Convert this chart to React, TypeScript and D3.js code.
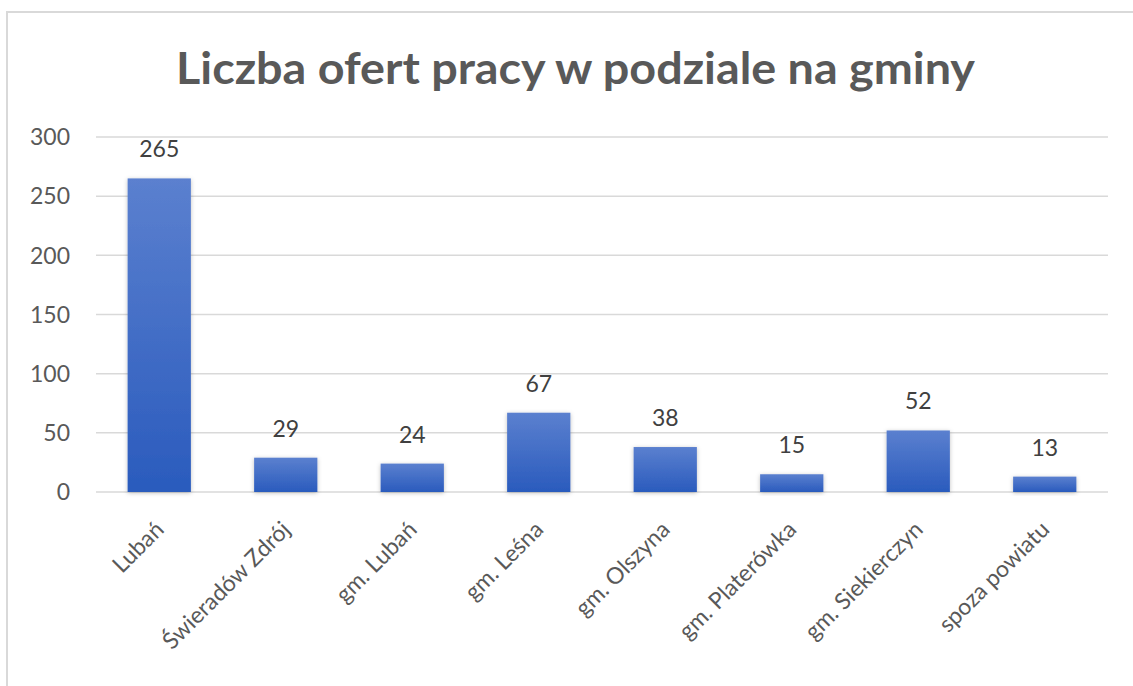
import React from "react";
import * as d3 from "d3";

const categories: string[] = [
  "Lubań",
  "Świeradów Zdrój",
  "gm. Lubań",
  "gm. Leśna",
  "gm. Olszyna",
  "gm. Platerówka",
  "gm. Siekierczyn",
  "spoza powiatu",
];
const values: number[] = [265, 29, 24, 67, 38, 15, 52, 13];
const yTicks: number[] = [0, 50, 100, 150, 200, 250, 300];
const title = "Liczba ofert pracy w podziale na gminy";

const W = 1133;
const H = 686;
const FONT = "Lato, 'Open Sans', sans-serif";
const TEXT = "#595959";

export default function App() {
  const x = d3
    .scaleBand<string>()
    .domain(categories)
    .range([96, 1108])
    .paddingInner(0.5)
    .paddingOuter(0.25);
  const y = d3.scaleLinear().domain([0, 300]).range([492, 137]);

  return (
    <svg
      width={W}
      height={H}
      style={{ position: "absolute", left: 0, top: 0, display: "block", background: "#fff" }}
    >
      <defs>
        <linearGradient id="barGrad" x1="0" y1="0" x2="0" y2="1">
          <stop offset="0%" stopColor="#5b80cf" />
          <stop offset="100%" stopColor="#2a5bbd" />
        </linearGradient>
        <filter id="shadow" x="-20%" y="-20%" width="140%" height="140%">
          <feDropShadow dx="0" dy="1" stdDeviation="2" floodColor="#000" floodOpacity="0.25" />
        </filter>
      </defs>
      <rect x={7} y={12} width={W + 10} height={H + 10} fill="#fff" stroke="#d9d9d9" strokeWidth={2} />

      <text
        x={575.5}
        y={84}
        textAnchor="middle"
        fontFamily={FONT}
        fontWeight="bold"
        fontSize={44}
        textLength={799}
        lengthAdjust="spacingAndGlyphs"
        fill={TEXT}
      >
        {title}
      </text>

      {yTicks.map((t) => (
        <g key={t}>
          <line x1={96} x2={1108} y1={y(t)} y2={y(t)} stroke="#d9d9d9" strokeWidth={1.5} />
          <text
            x={70}
            y={y(t)}
            dy="0.36em"
            textAnchor="end"
            fontFamily={FONT}
            fontSize={23}
            fill={TEXT}
          >
            {t}
          </text>
        </g>
      ))}

      {categories.map((c, i) => {
        const bx = x(c)!;
        const bw = x.bandwidth();
        const top = y(values[i]);
        const cx = bx + bw / 2;
        return (
          <g key={c}>
            <rect
              x={bx}
              y={top}
              width={bw}
              height={y(0) - top}
              fill="url(#barGrad)"
              filter="url(#shadow)"
            />
            <text
              x={cx}
              y={top - 21}
              textAnchor="middle"
              fontFamily={FONT}
              fontSize={23}
              fill="#404040"
            >
              {values[i]}
            </text>
            <text
              transform={`translate(${cx + 6},${531}) rotate(-45)`}
              textAnchor="end"
              fontFamily={FONT}
              fontSize={23}
              fill={TEXT}
            >
              {c}
            </text>
          </g>
        );
      })}
    </svg>
  );
}
